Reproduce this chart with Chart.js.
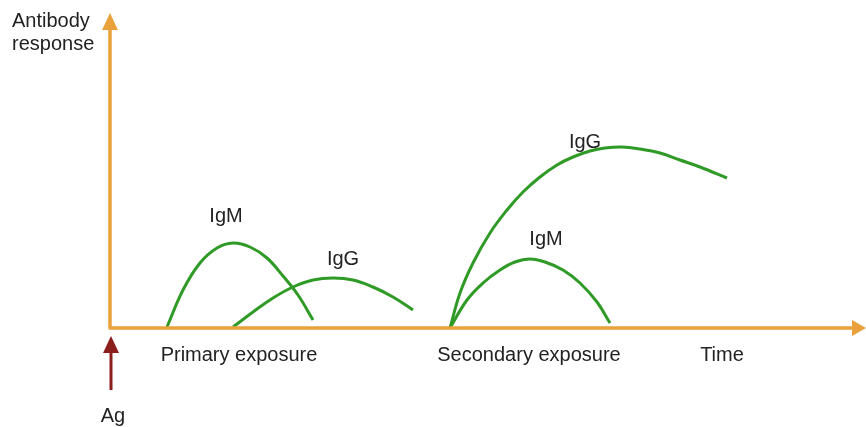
<!DOCTYPE html>
<html>
<head>
<meta charset="utf-8">
<script src="https://cdn.jsdelivr.net/npm/chart.js@4.4.1/dist/chart.umd.min.js"></script>
<style>
  html, body { margin: 0; padding: 0; background: #fff; }
  #wrap { width: 866px; height: 427px; position: relative; }
</style>
</head>
<body>
<div id="wrap"><canvas id="grafico"></canvas></div>
<script>
// curves (x = time, y = antibody response)
const primaryIgM = [[57, 1], [73, 38], [90, 65], [107, 80], [123, 85], [140, 81], [157, 70], [173, 52], [188, 33], [203, 8]];
const primaryIgG = [[123, 1], [143, 16], [163, 30], [183, 41], [203, 48], [223, 50], [243, 48], [263, 41], [283, 31], [303, 18]];
const secondaryIgG = [[340, 0], [350, 35], [363, 65], [380, 95], [397, 118], [413, 136], [430, 151], [447, 163], [463, 171], [480, 177], [495, 180], [512, 181], [530, 179], [550, 175], [570, 168], [590, 161], [617, 150]];
const secondaryIgM = [[340, 0], [357, 28], [373, 45], [390, 58], [405, 66], [420, 69], [435, 66], [453, 58], [470, 45], [487, 26], [500, 5]];

// curve labels
const curveLabels = ["IgM", "IgG", "IgG", "IgM"];
const curveLabelPos = [[116, 112], [233, 69], [475, 186], [436, 89]];

// labels under the time axis
const timeLabels = ["Primary exposure", "Secondary exposure", "Time"];
const timeLabelX = [129, 419, 612];

const antigenX = 1;

const verde = "#2f9a25";
const naranja = "#e9a23b";
const tinta = "#222";
const fuente = '20px "Liberation Sans", Arial, sans-serif';

function puntos(arr) {
  return arr.map(p => ({ x: p[0], y: p[1] }));
}

const dibujoEjes = {
  id: "dibujoEjes",
  afterDatasetsDraw(chart) {
    const { ctx, chartArea, scales } = chart;
    const x0 = scales.x.getPixelForValue(0);
    const y0 = scales.y.getPixelForValue(0);
    ctx.save();

    // axes
    ctx.strokeStyle = naranja;
    ctx.fillStyle = naranja;
    ctx.lineWidth = 3.5;
    ctx.beginPath();
    ctx.moveTo(x0, y0);
    ctx.lineTo(x0, chartArea.top + 14);
    ctx.moveTo(x0 - 1.5, y0);
    ctx.lineTo(chartArea.right - 10, y0);
    ctx.stroke();
    ctx.beginPath();
    ctx.moveTo(x0, chartArea.top);
    ctx.lineTo(x0 - 8, chartArea.top + 17);
    ctx.lineTo(x0 + 8, chartArea.top + 17);
    ctx.closePath();
    ctx.fill();
    ctx.beginPath();
    ctx.moveTo(chartArea.right, y0);
    ctx.lineTo(chartArea.right - 14, y0 - 8);
    ctx.lineTo(chartArea.right - 14, y0 + 8);
    ctx.closePath();
    ctx.fill();

    // antigen arrow
    const ax = scales.x.getPixelForValue(antigenX);
    ctx.strokeStyle = "#8c1d1d";
    ctx.fillStyle = "#8c1d1d";
    ctx.lineWidth = 3;
    ctx.beginPath();
    ctx.moveTo(ax, y0 + 20);
    ctx.lineTo(ax, y0 + 62);
    ctx.stroke();
    ctx.beginPath();
    ctx.moveTo(ax, y0 + 8);
    ctx.lineTo(ax - 8, y0 + 25);
    ctx.lineTo(ax + 8, y0 + 25);
    ctx.closePath();
    ctx.fill();

    // text
    ctx.fillStyle = tinta;
    ctx.font = fuente;
    ctx.textBaseline = "middle";
    ctx.textAlign = "center";
    curveLabels.forEach((t, i) => {
      ctx.fillText(t, scales.x.getPixelForValue(curveLabelPos[i][0]), scales.y.getPixelForValue(curveLabelPos[i][1]));
    });
    timeLabels.forEach((t, i) => {
      ctx.fillText(t, scales.x.getPixelForValue(timeLabelX[i]), y0 + 27);
    });
    ctx.fillText("Ag", ax + 2, y0 + 88);
    ctx.textAlign = "left";
    ctx.fillText("Antibody", 12, 21);
    ctx.fillText("response", 12, 44);
    ctx.restore();
  }
};

new Chart(document.getElementById("grafico"), {
  type: "line",
  data: {
    datasets: [primaryIgM, primaryIgG, secondaryIgG, secondaryIgM].map(d => ({
      data: puntos(d),
      borderColor: verde,
      borderWidth: 3,
      pointRadius: 0,
      tension: 0.4,
      fill: false
    }))
  },
  options: {
    responsive: true,
    maintainAspectRatio: false,
    animation: false,
    layout: { padding: { left: 110, right: 0, top: 13, bottom: 99 } },
    scales: {
      x: { type: "linear", min: 0, max: 756, display: false },
      y: { type: "linear", min: 0, max: 315, display: false }
    },
    plugins: {
      legend: { display: false },
      tooltip: { enabled: false }
    }
  },
  plugins: [dibujoEjes]
});
</script>
</body>
</html>
